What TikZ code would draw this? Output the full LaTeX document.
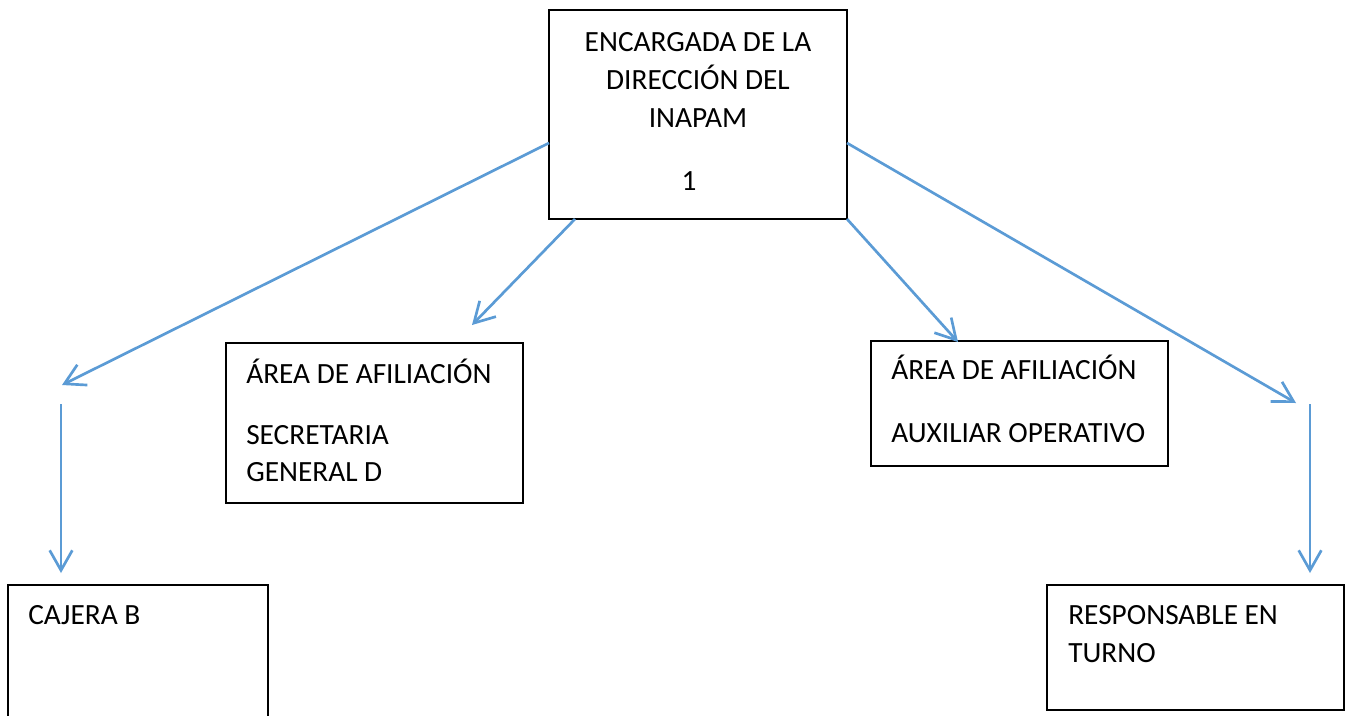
\documentclass[tikz,border=0pt]{standalone}
\usepackage{fontspec}
\setmainfont{Carlito}
\usetikzlibrary{arrows.meta}
\definecolor{arrowblue}{HTML}{5B9BD5}
\tikzset{
  box/.style={draw=black, line width=0.9pt},
  lbl/.style={inner sep=0pt, font=\fontsize{22}{27}\selectfont},
  conn/.style={draw=arrowblue, line width=2pt, -{Straight Barb[length=15pt, width=17pt, line width=2pt]}},
}
\begin{document}
\begin{tikzpicture}[x=0.75pt, y=-0.75pt]
\useasboundingbox (0,0) rectangle (1348,715);
\begin{scope}
\clip (0,0) rectangle (1348,715);
% boxes
\draw[box] (549,10) rectangle (847,219);
\draw[box] (226,343) rectangle (523,503);
\draw[box] (871,341) rectangle (1168,466);
\draw[box] (8,585) rectangle (268,730);
\draw[box] (1047,585) rectangle (1344,710);
\end{scope}
% named box nodes (invisible, for reference)
\node[inner sep=0pt, minimum width=298*0.75pt, minimum height=209*0.75pt] (top) at (698,114.5) {};
\node[inner sep=0pt, minimum width=297*0.75pt, minimum height=160*0.75pt] (sec) at (374.5,423) {};
\node[inner sep=0pt, minimum width=297*0.75pt, minimum height=125*0.75pt] (aux) at (1019.5,403.5) {};
\node[inner sep=0pt, minimum width=260*0.75pt, minimum height=130*0.75pt] (caj) at (138,650) {};
\node[inner sep=0pt, minimum width=297*0.75pt, minimum height=125*0.75pt] (resp) at (1195.5,647.5) {};
% texts
\node[lbl, anchor=base] (t1) at (698,51) {ENCARGADA DE LA};
\node[lbl, anchor=base] (t2) at (698,89) {DIRECCIÓN DEL};
\node[lbl, anchor=base] (t3) at (698,127) {INAPAM};
\node[lbl, anchor=base] (t4) at (689,190) {1};
\node[lbl, anchor=base west] (s1) at (246,383) {ÁREA DE AFILIACIÓN};
\node[lbl, anchor=base west] (s2) at (246,444) {SECRETARIA};
\node[lbl, anchor=base west] (s3) at (246,481) {GENERAL D};
\node[lbl, anchor=base west] (a1) at (891,379) {ÁREA DE AFILIACIÓN};
\node[lbl, anchor=base west] (a2) at (891,442) {AUXILIAR OPERATIVO};
\node[lbl, anchor=base west] (c1) at (28,624) {CAJERA B};
\node[lbl, anchor=base west] (r1) at (1068,624) {RESPONSABLE EN};
\node[lbl, anchor=base west] (r2) at (1068,662) {TURNO};
% connector end points
\coordinate (p1s) at (549,143);
\coordinate (p1e) at (62,385);
\coordinate (p2s) at (575,219);
\coordinate (p2e) at (472,325);
\coordinate (p3s) at (847,219);
\coordinate (p3e) at (958,342);
\coordinate (p4s) at (847,143);
\coordinate (p4e) at (1296,403);
\coordinate (v1s) at (61,404);
\coordinate (v1e) at (61,573);
\coordinate (v2s) at (1310,404);
\coordinate (v2e) at (1310,573);
% connectors
\draw[conn] (p1s) -- (p1e);
\draw[conn] (p2s) -- (p2e);
\draw[conn] (p3s) -- (p3e);
\draw[conn] (p4s) -- (p4e);
\draw[conn] (v1s) -- (v1e);
\draw[conn] (v2s) -- (v2e);
\end{tikzpicture}
\end{document}
